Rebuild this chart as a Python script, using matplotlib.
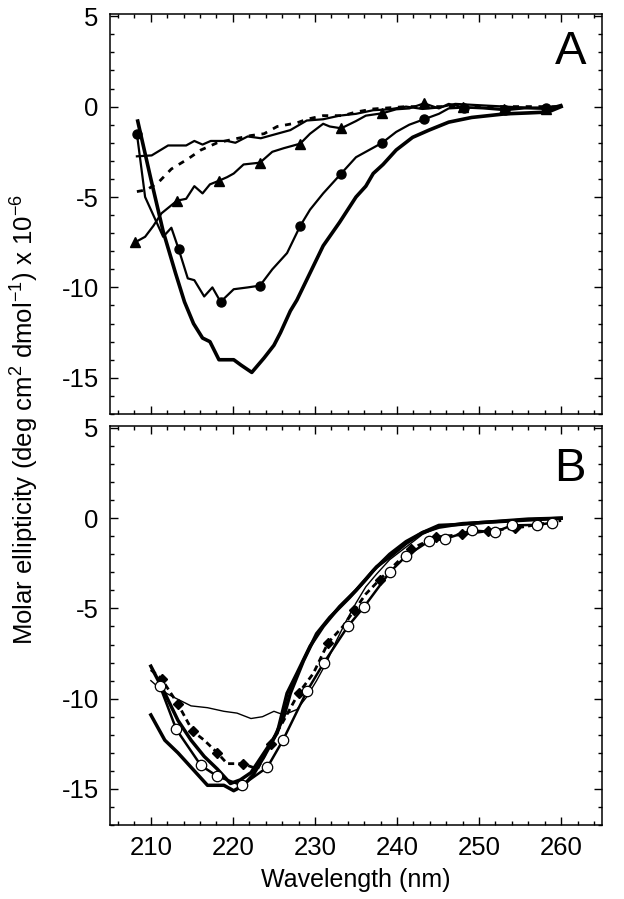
import matplotlib
matplotlib.use("Agg")
import matplotlib.pyplot as plt
from matplotlib.ticker import MultipleLocator

plt.rcParams['font.family'] = ['Liberation Sans', 'DejaVu Sans']
plt.rcParams['mathtext.fontset'] = 'custom'
plt.rcParams['mathtext.rm'] = 'Liberation Sans'
plt.rcParams['mathtext.it'] = 'Liberation Sans'
plt.rcParams['axes.unicode_minus'] = False

# ---------------- panel A ----------------
a_thick_x = [208.4, 210.0, 211.5, 213.0, 214.1, 215.2, 216.3, 217.2, 218.3, 220.1, 221.0, 222.3,
             223.8, 225.0, 225.8, 227.0, 227.8, 229.4, 231.0, 233.0, 235.0, 236.2, 237.1, 238.3,
             239.9, 241.9, 243.9, 246.3, 249.1, 253.2, 256.0, 258.4, 260.0]
a_thick_y = [-0.8, -4.0, -6.9, -9.2, -10.8, -12.0, -12.8, -13.0, -14.0, -14.0, -14.3, -14.7,
             -13.9, -13.2, -12.5, -11.3, -10.7, -9.2, -7.7, -6.4, -5.0, -4.4, -3.7, -3.2,
             -2.4, -1.7, -1.3, -0.86, -0.6, -0.4, -0.35, -0.3, 0.0]

a_circ_x = [208.3, 209.3, 211.5, 212.5, 213.4, 214.5, 215.3, 216.5, 217.5, 218.5, 220.1, 221.8,
            223.3, 224.8, 226.6, 228.2, 229.4, 231.0, 233.2, 235.0, 236.2, 238.2, 239.9, 241.5,
            243.3, 245.1, 246.3, 248.2, 250.5, 253.2, 255.5, 258.2, 260.0]
a_circ_y = [-1.5, -5.0, -7.2, -6.7, -7.9, -9.5, -9.6, -10.5, -10.0, -10.8, -10.1, -10.0,
            -9.9, -9.0, -8.1, -6.6, -5.7, -4.8, -3.7, -2.8, -2.5, -2.0, -1.4, -1.0,
            -0.7, -0.4, -0.1, -0.05, -0.1, -0.2, -0.1, -0.1, 0.0]
a_circ_marks = [0, 4, 9, 12, 15, 18, 21, 24, 27, 29, 31]

a_tri_x = [208.1, 209.3, 210.3, 211.3, 213.2, 214.3, 215.3, 216.3, 217.2, 218.3, 219.3, 220.1,
           221.3, 223.3, 224.8, 226.2, 228.2, 229.4, 231.0, 231.8, 233.2, 235.0, 236.2, 238.2,
           239.9, 241.5, 243.3, 245.1, 246.3, 248.1, 250.3, 253.0, 255.1, 258.2, 260.0]
a_tri_y = [-7.5, -7.2, -6.6, -5.9, -5.2, -5.1, -4.4, -4.8, -4.3, -4.1, -3.9, -3.7,
           -3.2, -3.1, -2.5, -2.3, -2.05, -1.5, -0.95, -1.1, -1.2, -0.8, -0.5, -0.37,
           -0.15, -0.1, 0.18, -0.1, 0.15, -0.04, -0.05, -0.13, -0.05, -0.13, 0.1]
a_tri_marks = [0, 4, 9, 13, 16, 20, 23, 26, 29, 31, 33]

a_thin_x = [208.3, 210.1, 212.1, 214.3, 215.3, 216.3, 217.3, 219.3, 220.3, 221.8, 223.4, 225.4,
            227.0, 229.0, 231.0, 233.0, 235.0, 237.1, 239.1, 241.1, 243.1, 245.1, 247.1, 249.1,
            251.1, 253.2, 255.2, 257.2, 260.0]
a_thin_y = [-2.75, -2.7, -2.15, -2.15, -1.9, -2.1, -1.9, -1.9, -2.0, -1.65, -1.75, -1.5,
            -1.3, -0.77, -0.7, -0.5, -0.4, -0.2, -0.15, 0.0, -0.13, -0.05, 0.15, 0.1,
            0.05, 0.0, -0.05, -0.05, 0.0]

a_dash_x = [208.3, 209.5, 210.9, 212.5, 214.5, 216.1, 218.1, 220.1, 222.2, 223.8, 225.4, 227.8,
            229.0, 231.0, 233.4, 235.0, 237.1, 241.1, 245.1, 250.0, 255.0, 260.0]
a_dash_y = [-4.7, -4.6, -4.2, -3.45, -2.9, -2.4, -2.0, -1.8, -1.6, -1.5, -1.1, -0.9,
            -0.7, -0.5, -0.5, -0.3, -0.13, 0.0, 0.0, 0.0, 0.0, 0.0]

# ---------------- panel B ----------------
b_thick1_x = [210.0, 211.7, 213.3, 214.9, 216.9, 218.9, 220.1, 221.3, 222.5, 223.8, 225.0, 226.2,
              227.0, 228.6, 230.2, 231.8, 234.2, 236.2, 237.5, 239.1, 241.1, 243.1, 245.1, 247.5,
              250.0, 253.0, 256.0, 260.0]
b_thick1_y = [-10.9, -12.3, -13.0, -13.8, -14.8, -14.8, -15.1, -14.8, -14.2, -13.2, -12.2, -11.0,
              -9.7, -7.9, -6.4, -5.5, -4.4, -3.4, -2.7, -2.15, -1.4, -0.8, -0.4, -0.35,
              -0.25, -0.15, -0.05, 0.0]

b_thick2_x = [210.0, 211.7, 213.3, 214.9, 216.5, 218.1, 219.7, 220.9, 222.2, 223.8, 225.4, 226.6,
              227.8, 229.4, 231.0, 233.0, 235.0, 237.1, 239.1, 241.1, 243.1, 245.1, 248.0, 252.0,
              256.0, 260.0]
b_thick2_y = [-8.2, -9.7, -11.2, -12.3, -13.2, -13.9, -14.7, -14.5, -14.1, -13.0, -11.9, -9.7,
              -8.6, -7.1, -6.0, -4.9, -4.0, -2.9, -2.0, -1.3, -0.8, -0.5, -0.3, -0.2,
              -0.1, 0.0]

b_thin_x = [210.0, 211.5, 212.7, 214.9, 216.9, 218.9, 220.5, 222.2, 223.6, 225.0, 226.2, 227.8,
            229.0, 230.2, 231.4, 232.6, 233.8, 235.0, 236.2, 237.5, 239.1, 241.1, 243.1, 245.1,
            248.0, 252.0, 256.0, 260.0]
b_thin_y = [-9.0, -9.6, -9.9, -10.4, -10.5, -10.7, -10.8, -11.1, -11.0, -10.7, -10.9, -10.6,
            -9.9, -9.0, -8.0, -6.8, -5.7, -4.7, -3.8, -3.1, -2.3, -1.6, -0.9, -0.5,
            -0.3, -0.2, -0.05, 0.0]

b_dia_x = [210.0, 211.3, 213.3, 215.1, 216.5, 218.1, 219.3, 221.2, 223.0, 224.6, 226.2, 228.0,
           229.8, 231.6, 233.4, 234.8, 236.2, 237.9, 239.9, 241.7, 243.1, 244.7, 247.9, 251.1,
           254.4, 257.2, 260.0]
b_dia_y = [-8.4, -8.9, -10.3, -11.8, -12.3, -13.0, -13.6, -13.6, -13.9, -12.5, -11.2, -9.7,
           -8.6, -6.9, -6.0, -5.1, -4.2, -3.4, -2.5, -1.7, -1.4, -1.05, -0.9, -0.7,
           -0.55, -0.35, -0.13]
b_dia_marks = [1, 2, 3, 5, 7, 9, 11, 13, 15, 17, 19, 21, 22, 23, 24, 25]

b_open_x = [211.1, 213.1, 216.1, 218.1, 221.1, 224.2, 226.1, 229.0, 231.1, 234.0, 236.0, 239.1,
            241.1, 243.9, 245.9, 249.1, 251.9, 254.0, 257.0, 258.9]
b_open_y = [-9.3, -11.7, -13.7, -14.3, -14.8, -13.8, -12.3, -9.6, -8.0, -6.0, -4.9, -3.0,
            -2.1, -1.27, -1.14, -0.68, -0.77, -0.4, -0.37, -0.26]

x_ticks = [210, 220, 230, 240, 250, 260]
y_ticks = [5, 0, -5, -10, -15]

fig = plt.figure(figsize=(6.24, 8.99), dpi=100)
axA = fig.add_axes([0.176, 0.5395, 0.789, 0.4445])
axB = fig.add_axes([0.176, 0.0823, 0.789, 0.4437])

k = 'black'
# panel A curves
axA.plot(a_thin_x, a_thin_y, color=k, lw=1.6)
axA.plot(a_dash_x, a_dash_y, color=k, lw=2.0, ls=(0, (2.2, 2.4)))
axA.plot(a_tri_x, a_tri_y, color=k, lw=1.6, marker='^', ms=7, markevery=a_tri_marks)
axA.plot(a_circ_x, a_circ_y, color=k, lw=1.6, marker='o', ms=6.5, markevery=a_circ_marks)
axA.plot(a_thick_x, a_thick_y, color=k, lw=2.6)

# panel B curves
axB.plot(b_thin_x, b_thin_y, color=k, lw=1.0)
axB.plot(b_thick1_x, b_thick1_y, color=k, lw=2.5)
axB.plot(b_thick2_x, b_thick2_y, color=k, lw=2.5)
axB.plot(b_dia_x, b_dia_y, color=k, lw=2.0, ls=(0, (2.2, 1.5)),
         marker='D', ms=5, markevery=b_dia_marks)
axB.plot(b_open_x, b_open_y, color=k, lw=1.8, marker='o', ms=7.5,
         mfc='white', mec=k, mew=0.9)

for ax in (axA, axB):
    ax.set_xlim(205, 265)
    ax.set_ylim(-17, 5.1)
    ax.set_xticks(x_ticks)
    ax.set_yticks(y_ticks)
    ax.xaxis.set_minor_locator(MultipleLocator(2))
    ax.yaxis.set_minor_locator(MultipleLocator(1))
    ax.tick_params(which='both', direction='in', top=True, right=True, width=1.0)
    ax.tick_params(which='major', length=5.5, labelsize=18.5, pad=8)
    ax.tick_params(which='minor', length=3)
    for s in ax.spines.values():
        s.set_linewidth(1.1)

axA.text(0.935, 0.905, 'A', transform=axA.transAxes, fontsize=34,
         ha='center', va='center')
axB.text(0.935, 0.892, 'B', transform=axB.transAxes, fontsize=34,
         ha='center', va='center')

axA.tick_params(labelbottom=False)
axB.set_xlabel('Wavelength (nm)', fontsize=18, labelpad=6)

fig.text(0.04, 0.533,
         r'Molar ellipticity (deg cm$^{2}$ dmol$^{-1}$) x 10$^{-6}$',
         rotation=90, fontsize=18.5, ha='center', va='center')

fig.savefig('out.png', dpi=100)
